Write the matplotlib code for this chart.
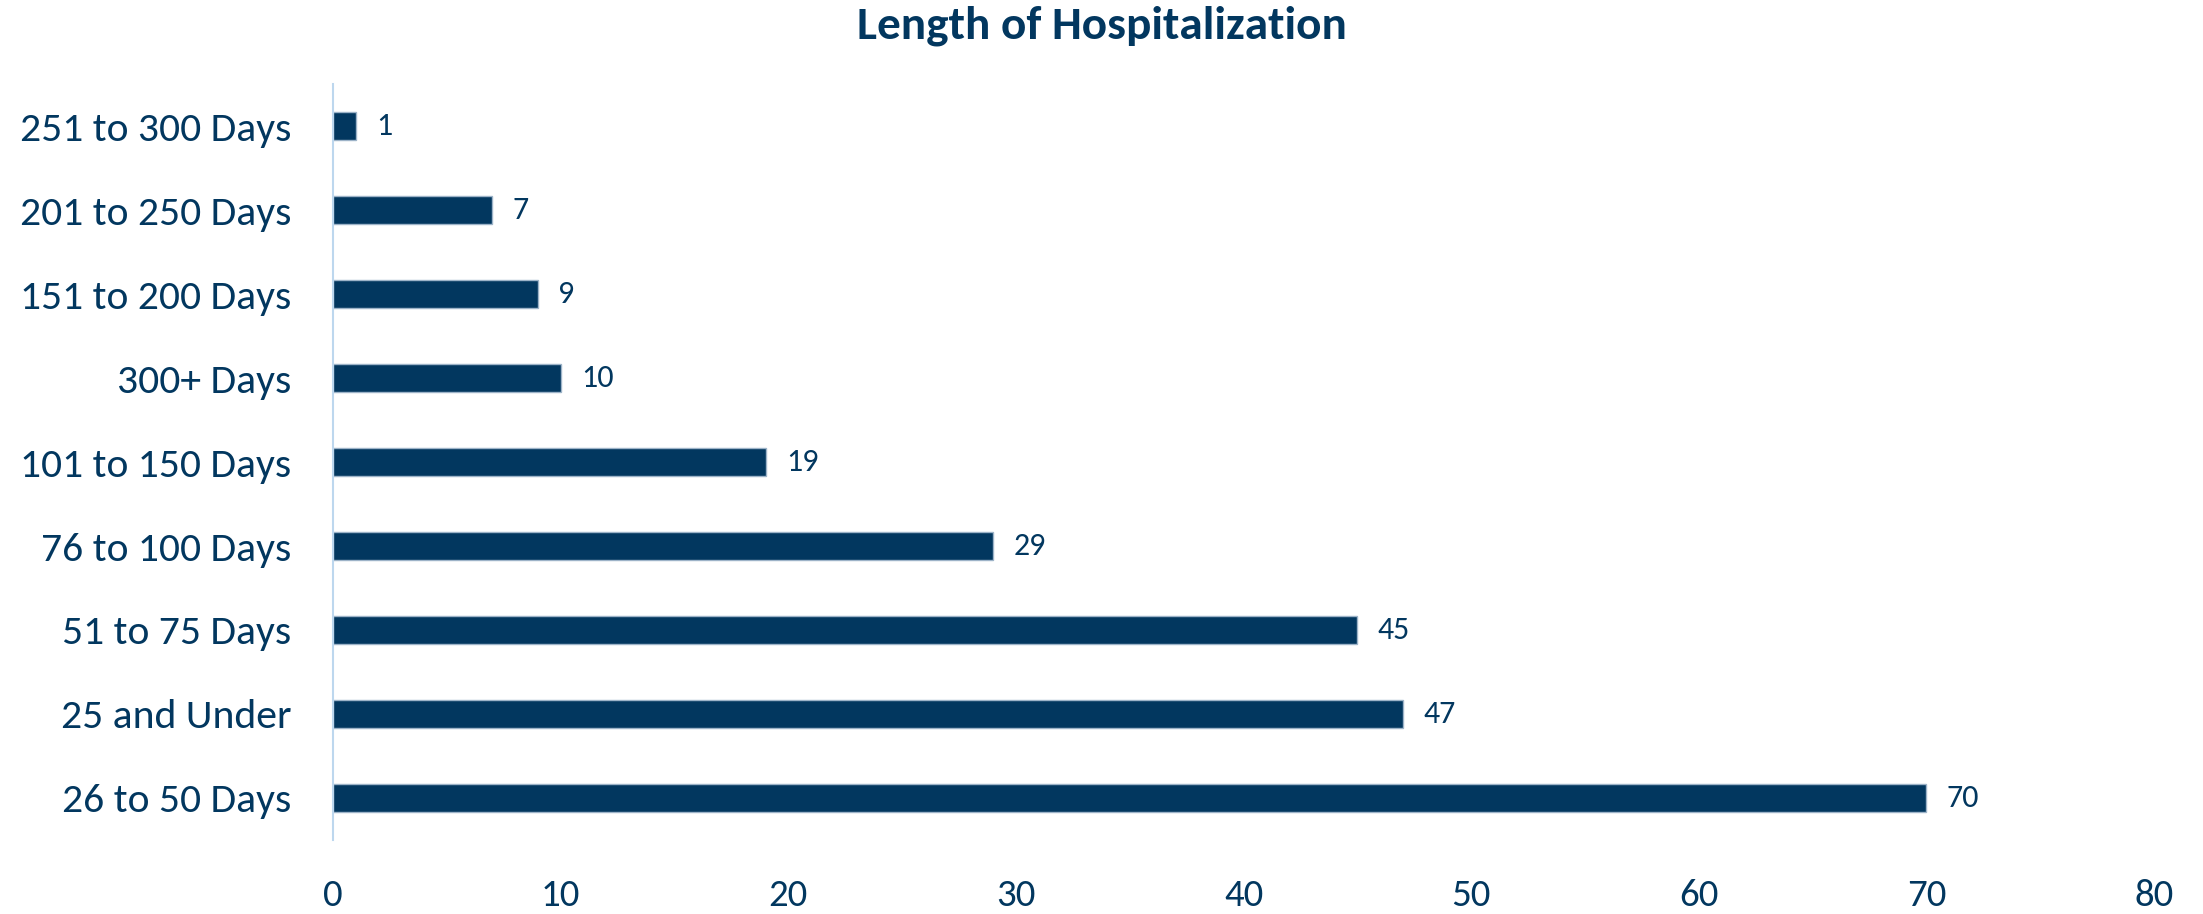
import matplotlib.pyplot as plt
from matplotlib import font_manager

# Data, bottom to top as drawn
categories = ['26 to 50 Days', '25 and Under', '51 to 75 Days', '76 to 100 Days',
              '101 to 150 Days', '300+ Days', '151 to 200 Days', '201 to 250 Days',
              '251 to 300 Days']
counts = [70, 47, 45, 29, 19, 10, 9, 7, 1]
x_ticks = [0, 10, 20, 30, 40, 50, 60, 70, 80]

navy = '#02375F'
installed = {f.name for f in font_manager.fontManager.ttflist}
fam = [f for f in ['Carlito', 'Liberation Sans Narrow', 'Open Sans', 'DejaVu Sans'] if f in installed]
plt.rcParams['font.family'] = fam

fig = plt.figure(figsize=(22.03, 9.14), dpi=100)
ax = fig.add_axes([0.1512, 0.081, 0.8266, 0.827])

ypos = list(range(len(categories)))
ax.barh(ypos, counts, height=0.33, color=navy, edgecolor='#9DB3C8', linewidth=1)

for y, v in zip(ypos, counts):
    ax.text(v + 0.9, y, str(v), va='center', ha='left', fontsize=23, color=navy)

ax.set_xlim(0, 80)
ax.set_ylim(-0.5, len(categories) - 0.5)
ax.set_xticks(x_ticks)
ax.set_yticks(ypos)
ax.set_yticklabels(categories)
ax.tick_params(axis='y', length=0, pad=30, labelsize=30, labelcolor=navy)
ax.tick_params(axis='x', length=0, pad=28, labelsize=28, labelcolor=navy)

for s in ['top', 'right', 'bottom']:
    ax.spines[s].set_visible(False)
ax.spines['left'].set_color('#BDD7EE')
ax.spines['left'].set_linewidth(1.5)

fig.text(0.5, 0.972, 'Length of Hospitalization', ha='center', va='center',
         fontsize=34, fontweight='bold', color=navy)

fig.savefig('out.png', dpi=100)
